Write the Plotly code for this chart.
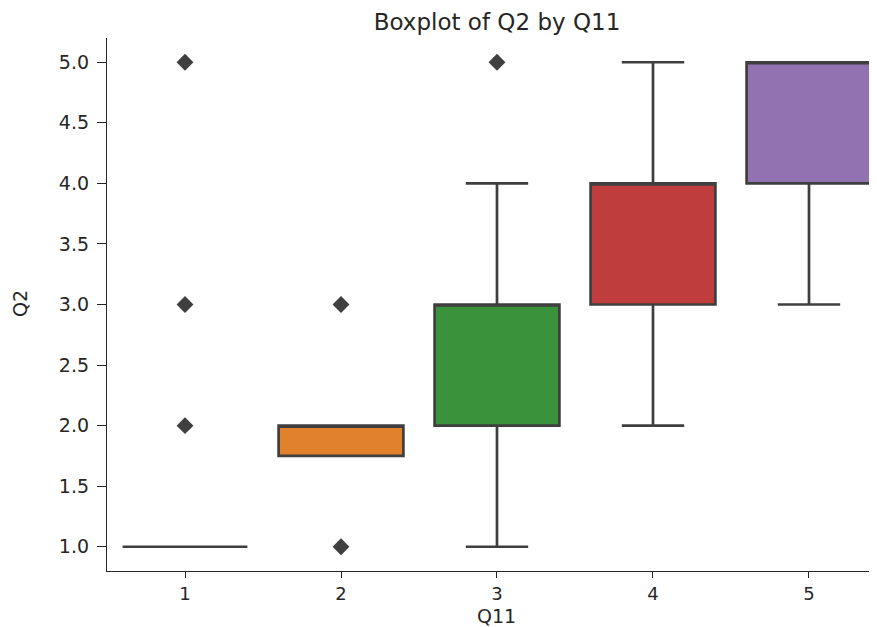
import plotly.graph_objects as go

categories = ["1", "2", "3", "4", "5"]
q1 = [1.0, 1.75, 2.0, 3.0, 4.0]
median = [1.0, 2.0, 3.0, 4.0, 5.0]
q3 = [1.0, 2.0, 3.0, 4.0, 5.0]
lower = [1.0, 1.75, 1.0, 2.0, 3.0]
upper = [1.0, 2.0, 4.0, 5.0, 5.0]
colors = ["#3274a1", "#e1812c", "#3a923a", "#c03d3e", "#9372b2"]
outlier_cat = ["1", "1", "1", "2", "2", "3"]
outlier_val = [2.0, 3.0, 5.0, 1.0, 3.0, 5.0]

pos = {c: i for i, c in enumerate(categories)}
line_col = "#3f3f3f"
fig = go.Figure()
for i, c in enumerate(categories):
    fig.add_trace(go.Box(
        x=[pos[c]], q1=[q1[i]], median=[median[i]], q3=[q3[i]],
        lowerfence=[lower[i]], upperfence=[upper[i]],
        width=0.8, whiskerwidth=0.5, fillcolor=colors[i],
        line=dict(color=line_col, width=2.7), boxpoints=False,
        showlegend=False, hoverinfo="skip"))

fig.add_trace(go.Scatter(
    x=[pos[c] for c in outlier_cat], y=outlier_val, mode="markers",
    marker=dict(symbol="diamond", size=13, color=line_col),
    showlegend=False, hoverinfo="skip"))

font = "DejaVu Sans"
OFF = 8  # page body margin
W, H = 877 - OFF, 627 - OFF
L, T, R, B = 107 - OFF, 38 - OFF, 0, 56
PW, PH = W - L - R, H - T - B
fig.update_layout(
    width=W, height=H,
    margin=dict(l=L, r=R, t=T, b=B, autoexpand=False),
    plot_bgcolor="white", paper_bgcolor="white",
    font=dict(family=font, size=18, color="#262626"),
    title=dict(text="Boxplot of Q2 by Q11", x=(497 - OFF) / W, xanchor="center",
               y=1 - (22 - OFF) / H, yanchor="middle", font=dict(size=23, color="#262626")),
    annotations=[
        dict(text="Q11", xref="paper", yref="paper", x=(497 - 107) / PW,
             y=-(616 - 571) / PH, xanchor="center", yanchor="middle",
             showarrow=False, font=dict(size=19)),
        dict(text="Q2", xref="paper", yref="paper", x=-(107 - 20) / PW,
             y=(571 - 304) / PH, xanchor="center", yanchor="middle",
             textangle=-90, showarrow=False, font=dict(size=19)),
    ],
)
fig.update_xaxes(
    range=[-0.5, 4.436], tickvals=list(range(5)), ticktext=categories,
    showline=True, linecolor="#262626", linewidth=1.3, ticks="outside",
    ticklen=6, tickcolor="#262626", tickwidth=1.3, showgrid=False, zeroline=False,
    automargin=False, tickfont=dict(size=18))
fig.update_yaxes(
    range=[0.8, 5.2], tickvals=[1.0, 1.5, 2.0, 2.5, 3.0, 3.5, 4.0, 4.5, 5.0],
    ticktext=["1.0", "1.5", "2.0", "2.5", "3.0", "3.5", "4.0", "4.5", "5.0"],
    showline=True, linecolor="#262626", linewidth=1.3, ticks="outside",
    ticklen=9, tickcolor="#262626", tickwidth=1.3, showgrid=False, zeroline=False,
    ticklabelstandoff=4, automargin=False, tickfont=dict(size=19))

fig.write_html("out.html")
